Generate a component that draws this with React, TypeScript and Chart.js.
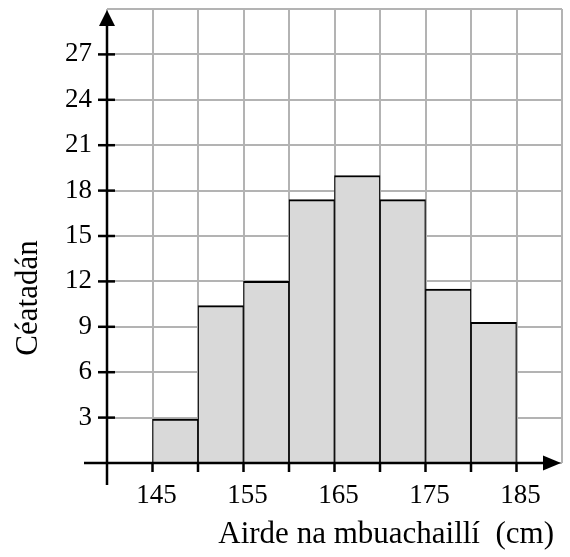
import React, { useEffect, useRef } from "react";
import { Chart, registerables } from "chart.js";

Chart.register(...registerables);

const binStarts = [145, 150, 155, 160, 165, 170, 175, 180];
const binWidth = 5;
const percentages = [2.9, 10.4, 12.0, 17.4, 19.0, 17.4, 11.5, 9.3];
const xLabelValues = [145, 155, 165, 175, 185];
const yLabelValues = [3, 6, 9, 12, 15, 18, 21, 24, 27];
const xTitle = "Airde na mbuachaillí  (cm)";
const yTitle = "Céatadán";

const FONT = "'Liberation Serif', 'Times New Roman', serif";

const zeroPad = (scale: any) => {
  scale.paddingTop = 0;
  scale.paddingBottom = 0;
  scale.paddingLeft = 0;
  scale.paddingRight = 0;
};

const axesPlugin = {
  id: "axesArrows",
  afterDraw(chart: any) {
    const { ctx } = chart;
    const xs = chart.scales.x;
    const ys = chart.scales.y;
    const x0 = xs.getPixelForValue(140);
    const y0 = ys.getPixelForValue(0);
    const xEnd = xs.getPixelForValue(190);
    const yEnd = ys.getPixelForValue(30);
    ctx.save();
    ctx.strokeStyle = "#000";
    ctx.fillStyle = "#000";
    ctx.lineWidth = 2.5;
    ctx.lineCap = "butt";
    // x axis
    ctx.beginPath();
    ctx.moveTo(x0 - 23, y0);
    ctx.lineTo(xEnd - 12, y0);
    ctx.stroke();
    ctx.beginPath();
    ctx.moveTo(xEnd - 1, y0);
    ctx.lineTo(xEnd - 19, y0 - 7.5);
    ctx.lineTo(xEnd - 19, y0 + 7.5);
    ctx.closePath();
    ctx.fill();
    // y axis
    ctx.beginPath();
    ctx.moveTo(x0, y0 + 22);
    ctx.lineTo(x0, yEnd + 12);
    ctx.stroke();
    ctx.beginPath();
    ctx.moveTo(x0, yEnd + 1);
    ctx.lineTo(x0 - 8, yEnd + 17);
    ctx.lineTo(x0 + 8, yEnd + 17);
    ctx.closePath();
    ctx.fill();
    // ticks
    xs.ticks.forEach((t: any) => {
      if (t.value >= 145 && t.value <= 185) {
        const px = xs.getPixelForValue(t.value);
        ctx.beginPath();
        ctx.moveTo(px, y0 - 1);
        ctx.lineTo(px, y0 + 9);
        ctx.stroke();
      }
    });
    ys.ticks.forEach((t: any) => {
      if (t.value >= 3 && t.value <= 27) {
        const py = ys.getPixelForValue(t.value);
        ctx.beginPath();
        ctx.moveTo(x0 - 9, py);
        ctx.lineTo(x0 + 8, py);
        ctx.stroke();
      }
    });
    // titles
    ctx.font = `31px ${FONT}`;
    ctx.textAlign = "right";
    ctx.textBaseline = "alphabetic";
    ctx.fillText(xTitle, 554, 543);
    ctx.translate(37, 298);
    ctx.rotate(-Math.PI / 2);
    ctx.textAlign = "center";
    ctx.fillText(yTitle, 0, 0);
    ctx.restore();
  },
};

export default function App() {
  const canvasRef = useRef<HTMLCanvasElement | null>(null);

  useEffect(() => {
    if (!canvasRef.current) return;
    const data = binStarts.map((s, i) => ({ x: s + binWidth / 2, y: percentages[i] }));
    const chart = new Chart(canvasRef.current, {
      type: "bar",
      data: {
        datasets: [
          {
            data: data as any,
            backgroundColor: "#d9d9d9",
            borderColor: "#000",
            borderWidth: { top: 2, left: 1.2, right: 1.2, bottom: 0 } as any,
            borderSkipped: false,
            barPercentage: 1,
            categoryPercentage: 1,
          },
        ],
      },
      options: {
        animation: false,
        responsive: true,
        maintainAspectRatio: false,
        layout: { padding: { left: 0, right: 8, top: 9, bottom: 0 } },
        plugins: { legend: { display: false }, tooltip: { enabled: false } },
        scales: {
          x: {
            type: "linear",
            min: 140,
            max: 190,
            offset: false,
            afterFit: (scale: any) => {
              scale.height = 94;
              zeroPad(scale);
            },
            grid: {
              offset: false,
              color: "#b3b3b3",
              lineWidth: 2,
              drawTicks: false,
            },
            border: { display: false },
            ticks: {
              stepSize: 5,
              autoSkip: false,
              maxRotation: 0,
              padding: 17,
              labelOffset: 4,
              color: "#000",
              font: { family: FONT, size: 27 },
              callback: (v: any) => (xLabelValues.includes(Number(v)) ? String(v) : ""),
            },
          },
          y: {
            type: "linear",
            min: 0,
            max: 30,
            afterFit: (scale: any) => {
              scale.width = 107;
              zeroPad(scale);
            },
            grid: {
              color: "#b3b3b3",
              lineWidth: 2,
              drawTicks: false,
            },
            border: { display: false },
            ticks: {
              stepSize: 3,
              autoSkip: false,
              padding: 15,
              color: "#000",
              font: { family: FONT, size: 27 },
              callback: (v: any) => (yLabelValues.includes(Number(v)) ? String(v) : ""),
            },
          },
        },
      },
      plugins: [axesPlugin],
    });
    return () => chart.destroy();
  }, []);

  return (
    <div style={{ position: "absolute", left: 0, top: 0, width: 570, height: 557, background: "#fff" }}>
      <canvas ref={canvasRef} />
    </div>
  );
}
